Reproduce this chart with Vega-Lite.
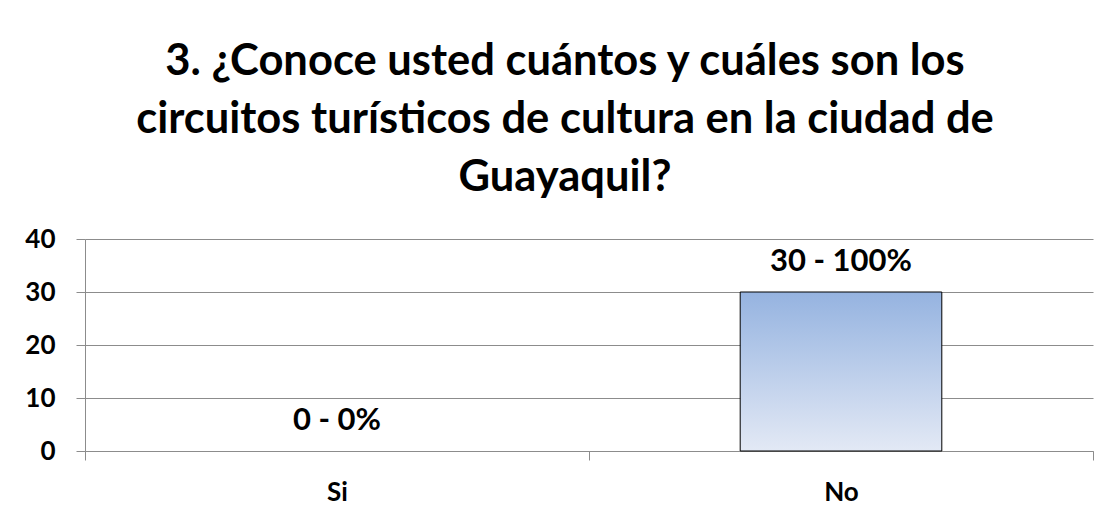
{
  "$schema": "https://vega.github.io/schema/vega-lite/v6.json",
  "width": 1008,
  "height": 212,
  "autosize": "none",
  "padding": {"left": 85, "top": 239, "right": 16, "bottom": 68},
  "background": "white",
  "title": {
    "text": ["3. ¿Conoce usted cuántos y cuáles son los", "circuitos turísticos de cultura en la ciudad de", "Guayaquil?"],
    "font": "Lato",
    "fontSize": 43.5,
    "fontWeight": "bold",
    "lineHeight": 58,
    "color": "black",
    "anchor": "middle",
    "dx": -24,
    "dy": -22
  },
  "data": {
    "values": [
      {"respuesta": "Si", "frecuencia": 0, "etiqueta": "0 - 0%"},
      {"respuesta": "No", "frecuencia": 30, "etiqueta": "30 - 100%"}
    ]
  },
  "encoding": {
    "x": {
      "field": "respuesta",
      "type": "nominal",
      "sort": ["Si", "No"],
      "scale": {"paddingInner": 0, "paddingOuter": 0},
      "axis": {
        "title": null,
        "labelAngle": 0,
        "labelFont": "Lato",
        "labelFontSize": 26,
        "labelFontWeight": "bold",
        "labelColor": "black",
        "labelPadding": 19,
        "tickBand": "extent",
        "tickSize": 9,
        "tickColor": "#8c8c8c",
        "domainColor": "#8c8c8c",
        "grid": false
      }
    },
    "y": {
      "field": "frecuencia",
      "type": "quantitative",
      "scale": {"domain": [0, 40]},
      "axis": {
        "title": null,
        "values": [0, 10, 20, 30, 40],
        "labelFont": "Lato",
        "labelFontSize": 26,
        "labelFontWeight": "bold",
        "labelColor": "black",
        "labelPadding": 21,
        "tickSize": 9,
        "tickColor": "#8c8c8c",
        "domainColor": "#8c8c8c",
        "gridColor": "#8c8c8c",
        "gridOpacity": 1
      }
    }
  },
  "layer": [
    {
      "transform": [{"filter": "datum.frecuencia > 0"}],
      "mark": {
        "type": "bar",
        "width": {"band": 0.4},
        "stroke": "black",
        "strokeWidth": 1,
        "fill": {
          "gradient": "linear",
          "x1": 0, "y1": 0, "x2": 0, "y2": 1,
          "stops": [
            {"offset": 0, "color": "#95b3e0"},
            {"offset": 1, "color": "#e3e9f5"}
          ]
        }
      }
    },
    {
      "mark": {
        "type": "text",
        "font": "Lato",
        "fontSize": 31,
        "fontWeight": "bold",
        "color": "black",
        "baseline": "middle",
        "dy": -30
      },
      "encoding": {"text": {"field": "etiqueta"}}
    }
  ],
  "config": {"view": {"stroke": null}}
}
